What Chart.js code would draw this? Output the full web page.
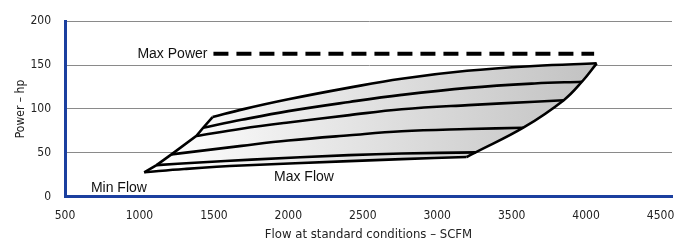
<!DOCTYPE html>
<html>
<head>
<meta charset="utf-8">
<script src="https://cdn.jsdelivr.net/npm/chart.js@4/dist/chart.umd.min.js"></script>
<style>
  html, body { margin: 0; padding: 0; background: #fff; }
  #wrap { width: 688px; height: 250px; }
</style>
</head>
<body>
<div id="wrap"><canvas id="chart" width="688" height="250"></canvas></div>
<script>
// axis ticks
const xTicks = [500, 1000, 1500, 2000, 2500, 3000, 3500, 4000, 4500];
const yTicks = [0, 50, 100, 150, 200];

// operating envelope lines (flow in SCFM, power in hp)
const topFlow = [1491, 1700, 2000, 2400, 2760, 3200, 3650, 4071];
const topHp = [90.8, 99.8, 111, 124, 134.5, 143.5, 149, 152];
const line2Flow = [1428, 1686, 2000, 2411, 2761, 3209, 3654, 3972];
const line2Hp = [78.6, 87.6, 97.5, 108, 116, 124, 129, 131];
const line3Flow = [1383, 1686, 2000, 2411, 2761, 3209, 3654, 3850];
const line3Hp = [69.3, 77.5, 84.6, 93, 99.6, 104.4, 108.2, 110];
const line4Flow = [1215, 1686, 2000, 2411, 2761, 3209, 3578];
const line4Hp = [48.2, 57.9, 64, 70, 74.5, 77.1, 78.6];
const line5Flow = [1115, 1400, 1753, 2408, 2761, 3258];
const line5Hp = [36, 39, 42.3, 47.4, 49.3, 50.5];
const bottomFlow = [1032, 1300, 1686, 2408, 2761, 3197];
const bottomHp = [27.8, 31.5, 35.5, 40.5, 42.8, 45.2];
const rightFlow = [3197, 3258, 3578, 3850, 3972, 4071];
const rightHp = [45.2, 50.5, 78.6, 110, 131, 152];
const leftFlow = [1032, 1115, 1215, 1383, 1428, 1491];
const leftHp = [27.8, 36, 48.2, 69.3, 78.6, 90.8];
const maxPowerFlow = [1497, 4054];
const maxPowerHp = [163, 163];

const BLUE = '#1b3f9f';
const narrow = "'Liberation Sans Narrow', 'DejaVu Sans Condensed', sans-serif";
const regular = "'Liberation Sans', Arial, sans-serif";

const pts = (xs, ys) => xs.map((x, i) => ({ x: x, y: ys[i] }));

function curve(xs, ys, tension) {
    return {
        data: pts(xs, ys),
        borderColor: '#000',
        borderWidth: 2.6,
        borderJoinStyle: 'miter',
        pointRadius: 0,
        fill: false,
        tension: tension
    };
}

// indexes: 0 top, 1..4 inner, 5 bottom, 6 right, 7 left, 8 max power
const datasets = [
    curve(topFlow, topHp, 0.4),
    curve(line2Flow, line2Hp, 0.4),
    curve(line3Flow, line3Hp, 0.4),
    curve(line4Flow, line4Hp, 0.4),
    curve(line5Flow, line5Hp, 0.4),
    curve(bottomFlow, bottomHp, 0.4),
    curve(rightFlow, rightHp, 0.4),
    curve(leftFlow, leftHp, 0),
    {
        data: pts(maxPowerFlow, maxPowerHp),
        borderColor: '#000',
        borderWidth: 4,
        borderDash: [15, 8],
        borderCapStyle: 'butt',
        pointRadius: 0,
        fill: false
    }
];

// shaded envelope: top -> right (reversed) -> bottom (reversed) -> left
const envelopeFill = {
    id: 'envelopeFill',
    beforeDatasetsDraw(chart) {
        const { ctx, chartArea, scales } = chart;
        const line = i => {
            const el = chart.getDatasetMeta(i).dataset;
            el.updateControlPoints(chartArea, 'x');
            return el;
        };
        const top = line(0), right = line(6), bottom = line(5), left = line(7);
        const g = ctx.createLinearGradient(scales.x.getPixelForValue(1100), 0, scales.x.getPixelForValue(4071), 0);
        g.addColorStop(0, '#ffffff');
        g.addColorStop(1, '#c2c2c2');
        ctx.save();
        ctx.beginPath();
        top.pathSegment(ctx, top.segments[0]);
        right.pathSegment(ctx, right.segments[0], { move: false, reverse: true });
        bottom.pathSegment(ctx, bottom.segments[0], { move: false, reverse: true });
        left.pathSegment(ctx, left.segments[0], { move: false });
        ctx.closePath();
        ctx.fillStyle = g;
        ctx.fill();
        ctx.restore();
    }
};

// text labels on the plot
const labels = {
    id: 'labels',
    afterDatasetsDraw(chart) {
        const { ctx, scales: { x, y } } = chart;
        ctx.save();
        ctx.fillStyle = '#111';
        ctx.font = '14px ' + regular;
        ctx.textBaseline = 'middle';
        ctx.textAlign = 'right';
        ctx.fillText('Max Power', x.getPixelForValue(maxPowerFlow[0]) - 6, y.getPixelForValue(maxPowerHp[0]));
        ctx.textAlign = 'center';
        ctx.fillText('Min Flow', x.getPixelForValue(862), y.getPixelForValue(10));
        ctx.fillText('Max Flow', x.getPixelForValue(2105), y.getPixelForValue(22));
        ctx.restore();
    }
};

new Chart(document.getElementById('chart'), {
    type: 'line',
    data: { datasets },
    options: {
        responsive: false,
        animation: false,
        events: [],
        layout: { padding: { left: 0, right: 16, top: 16, bottom: 3 } },
        plugins: { legend: { display: false }, tooltip: { enabled: false } },
        scales: {
            x: {
                type: 'linear',
                min: 500,
                max: 4577,
                afterBuildTicks: s => { s.ticks = xTicks.map(v => ({ value: v })); },
                afterFit: s => { s.height = 50.3; },
                grid: { drawOnChartArea: false, drawTicks: false },
                border: { color: BLUE, width: 3 },
                ticks: { padding: 12, color: '#222', font: { family: narrow, size: 12 }, maxRotation: 0, callback: v => String(v) },
                title: {
                    display: true,
                    text: 'Flow at standard conditions – SCFM',
                    color: '#222',
                    font: { family: narrow, size: 13 },
                    padding: { top: 0, bottom: 5 }
                }
            },
            y: {
                min: 0,
                max: 200,
                afterBuildTicks: s => { s.ticks = yTicks.map(v => ({ value: v })); },
                afterFit: s => { s.width = 65; },
                grid: { color: '#8a8a8a', lineWidth: 1, drawTicks: false },
                border: { color: BLUE, width: 3 },
                ticks: { padding: 14, color: '#222', font: { family: narrow, size: 12 }, callback: v => String(v) },
                title: {
                    display: true,
                    text: 'Power – hp',
                    color: '#222',
                    font: { family: narrow, size: 12 },
                    padding: { top: 14, bottom: 0 }
                }
            }
        }
    },
    plugins: [envelopeFill, labels]
});
</script>
</body>
</html>
